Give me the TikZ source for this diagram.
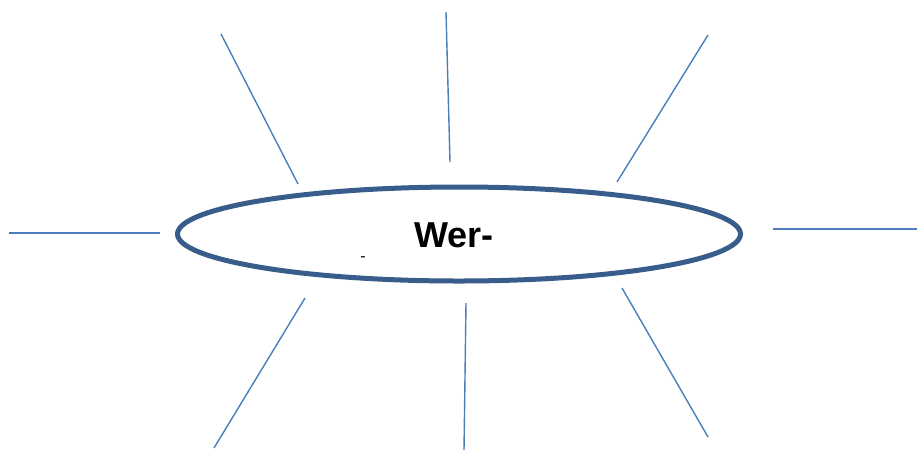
\documentclass[tikz,border=0pt]{standalone}
\usepackage{fontspec}
\setmainfont{Liberation Sans}
\usetikzlibrary{shapes.geometric}
\definecolor{rayblue}{HTML}{4A7EBB}
\definecolor{ringblue}{HTML}{385D8A}
\begin{document}
\begin{tikzpicture}[x=1pt,y=-1pt,
  ray/.style={draw=rayblue,line width=1.4pt},
  ring/.style={draw=ringblue,line width=5pt}]
\useasboundingbox (0,0) rectangle (917,451);
\node[ellipse,ring,minimum width=563pt,minimum height=94pt,inner sep=0pt] (centre) at (459,234) {};
\node[font=\fontsize{36}{38}\selectfont\bfseries,anchor=base] (label) at (454,247) {Wer-};
\node[font=\fontsize{16}{17}\selectfont,inner sep=0pt] (dash) at (363,259) {-};
\coordinate (a1) at (221,34);  \coordinate (b1) at (298,184);
\coordinate (a2) at (446,12);  \coordinate (b2) at (450,162);
\coordinate (a3) at (708,35);  \coordinate (b3) at (617,182);
\coordinate (a4) at (9,233);   \coordinate (b4) at (160,233);
\coordinate (a5) at (773,229); \coordinate (b5) at (917,229);
\coordinate (a6) at (305,298); \coordinate (b6) at (214,448);
\coordinate (a7) at (466,303); \coordinate (b7) at (464,450);
\coordinate (a8) at (622,288); \coordinate (b8) at (708,437);
\foreach \i in {1,...,8} { \draw[ray] (a\i) -- (b\i); }
\end{tikzpicture}
\end{document}
